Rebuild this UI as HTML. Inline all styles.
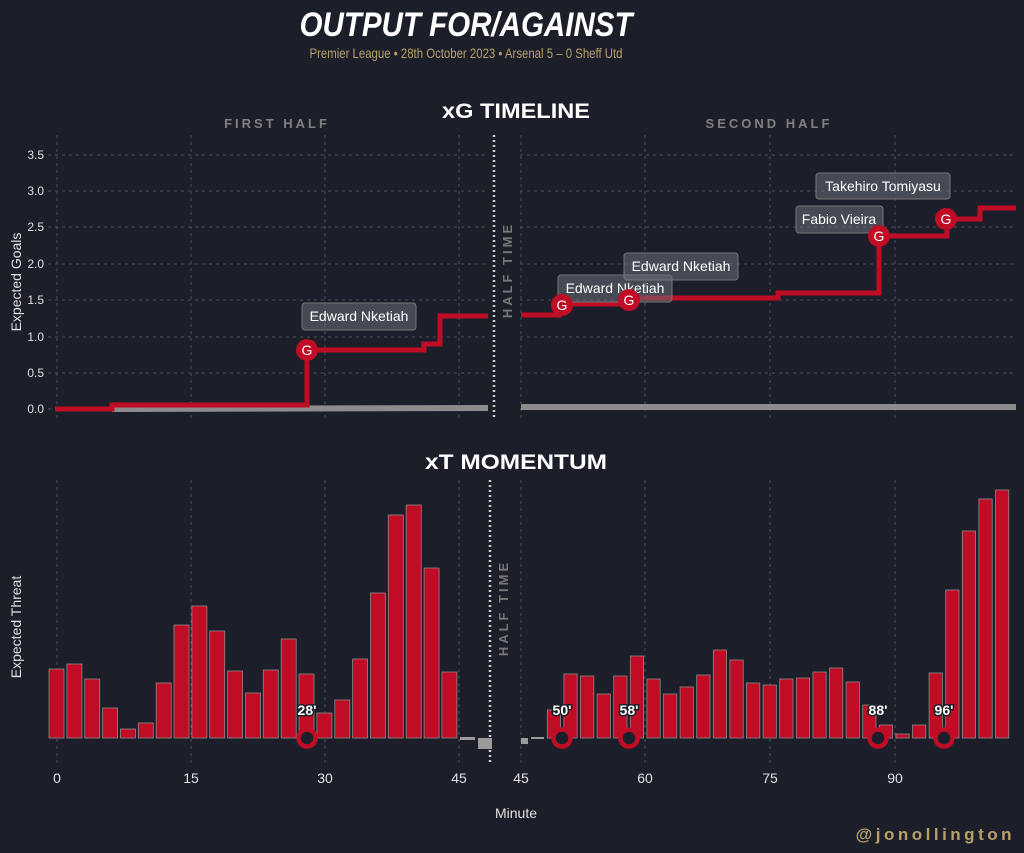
<!DOCTYPE html>
<html><head><meta charset="utf-8"><style>
html,body{margin:0;padding:0;background:#1c1f2a;}
svg{display:block;font-family:"Liberation Sans",sans-serif;}
</style></head><body>
<svg width="1024" height="853" viewBox="0 0 1024 853" xmlns="http://www.w3.org/2000/svg">
<rect width="1024" height="853" fill="#1c1f2a"/>
<text x="466" y="36" text-anchor="middle" fill="#fff" font-size="34" font-weight="bold" font-style="italic" textLength="333" lengthAdjust="spacingAndGlyphs">OUTPUT FOR/AGAINST</text>
<text x="466" y="58" text-anchor="middle" fill="#b8a068" font-size="14" textLength="313" lengthAdjust="spacingAndGlyphs">Premier League • 28th October 2023 • Arsenal 5 – 0 Sheff Utd</text>
<text x="516" y="118" text-anchor="middle" fill="#fff" font-size="21" font-weight="bold" textLength="148" lengthAdjust="spacingAndGlyphs">xG TIMELINE</text>
<text x="277" y="128" text-anchor="middle" fill="#808080" font-size="13" font-weight="bold" letter-spacing="3">FIRST HALF</text>
<text x="769" y="128" text-anchor="middle" fill="#808080" font-size="13" font-weight="bold" letter-spacing="3">SECOND HALF</text>
<text x="516" y="469" text-anchor="middle" fill="#fff" font-size="21" font-weight="bold" textLength="182" lengthAdjust="spacingAndGlyphs">xT MOMENTUM</text>

<g stroke="#4c505c" stroke-width="1" stroke-dasharray="3,4">
<line x1="48" x2="488" y1="409" y2="409"/><line x1="48" x2="488" y1="373" y2="373"/><line x1="48" x2="488" y1="337" y2="337"/><line x1="48" x2="488" y1="300" y2="300"/><line x1="48" x2="488" y1="264" y2="264"/><line x1="48" x2="488" y1="227" y2="227"/><line x1="48" x2="488" y1="191" y2="191"/><line x1="48" x2="488" y1="155" y2="155"/>
<line x1="520" x2="1016" y1="409" y2="409"/><line x1="520" x2="1016" y1="373" y2="373"/><line x1="520" x2="1016" y1="337" y2="337"/><line x1="520" x2="1016" y1="300" y2="300"/><line x1="520" x2="1016" y1="264" y2="264"/><line x1="520" x2="1016" y1="227" y2="227"/><line x1="520" x2="1016" y1="191" y2="191"/><line x1="520" x2="1016" y1="155" y2="155"/>
<line x1="57" x2="57" y1="135" y2="420"/><line x1="191" x2="191" y1="135" y2="420"/><line x1="325" x2="325" y1="135" y2="420"/><line x1="459" x2="459" y1="135" y2="420"/>
<line x1="521" x2="521" y1="135" y2="420"/><line x1="645" x2="645" y1="135" y2="420"/><line x1="770" x2="770" y1="135" y2="420"/><line x1="895" x2="895" y1="135" y2="420"/>
<line x1="57" x2="57" y1="480" y2="765"/><line x1="191" x2="191" y1="480" y2="765"/><line x1="325" x2="325" y1="480" y2="765"/><line x1="459" x2="459" y1="480" y2="765"/>
<line x1="521" x2="521" y1="480" y2="765"/><line x1="645" x2="645" y1="480" y2="765"/><line x1="770" x2="770" y1="480" y2="765"/><line x1="895" x2="895" y1="480" y2="765"/>
</g>
<g fill="#e0e0e0" font-size="12" text-anchor="end">
<text x="44" y="413">0.0</text><text x="44" y="377">0.5</text><text x="44" y="341">1.0</text><text x="44" y="304">1.5</text><text x="44" y="268">2.0</text><text x="44" y="231">2.5</text><text x="44" y="195">3.0</text><text x="44" y="159">3.5</text>
</g>
<text transform="translate(21,282) rotate(-90)" text-anchor="middle" fill="#e0e0e0" font-size="14">Expected Goals</text>
<text transform="translate(21,627) rotate(-90)" text-anchor="middle" fill="#e0e0e0" font-size="14">Expected Threat</text>

<line x1="494" x2="494" y1="135" y2="420" stroke="#ccc" stroke-width="2.5" stroke-dasharray="2,3"/>
<line x1="490" x2="490" y1="480" y2="765" stroke="#ccc" stroke-width="2.5" stroke-dasharray="2,3"/>
<text transform="translate(512,270) rotate(-90)" text-anchor="middle" fill="#777" font-size="13" font-weight="bold" letter-spacing="3">HALF TIME</text>
<text transform="translate(508,608) rotate(-90)" text-anchor="middle" fill="#777" font-size="13" font-weight="bold" letter-spacing="3">HALF TIME</text>

<polyline fill="none" stroke="#8c8c8c" stroke-width="6" points="112,409 488,408"/>
<polyline fill="none" stroke="#8c8c8c" stroke-width="6" points="521,407 1016,407"/>
<polyline fill="none" stroke="#c00c24" stroke-width="5" points="55,409 112,409 112,405 307,405 307,350 424,350 424,344 440,344 440,316 488,316"/>
<polyline fill="none" stroke="#c00c24" stroke-width="5" points="521,315 559,315 559,304 629,304 629,298 778,298 778,293 879,293 879,236 947,236 947,219 980,219 980,208 1016,208"/>
<g font-size="14" fill="#fff">
<rect x="302" y="303" width="114" height="27" rx="3" fill="#6a6d78" fill-opacity="0.55" stroke="#777" stroke-width="1"/>
<text x="359" y="321" text-anchor="middle">Edward Nketiah</text>
<rect x="558" y="275" width="114" height="27" rx="3" fill="#6a6d78" fill-opacity="0.55" stroke="#777"/>
<text x="615" y="293" text-anchor="middle">Edward Nketiah</text>
<rect x="624" y="253" width="114" height="27" rx="3" fill="#6a6d78" fill-opacity="0.55" stroke="#777"/>
<text x="681" y="271" text-anchor="middle">Edward Nketiah</text>
<rect x="796" y="206" width="87" height="27" rx="3" fill="#6a6d78" fill-opacity="0.55" stroke="#777"/>
<text x="839" y="224" text-anchor="middle">Fabio Vieira</text>
<rect x="816" y="173" width="134" height="26" rx="3" fill="#6a6d78" fill-opacity="0.55" stroke="#777"/>
<text x="883" y="191" text-anchor="middle">Takehiro Tomiyasu</text>
</g>
<g fill="#c00c24">
<circle cx="307" cy="350" r="11"/><circle cx="562" cy="305" r="11"/><circle cx="629" cy="300" r="11"/><circle cx="879" cy="236" r="11"/><circle cx="946" cy="219" r="11"/>
</g>
<g fill="#fff" font-size="14" text-anchor="middle">
<text x="307" y="355">G</text><text x="562" y="310">G</text><text x="629" y="305">G</text><text x="879" y="241">G</text><text x="946" y="224">G</text>
</g>

<g fill="#c00c24" stroke="#8a8a8a" stroke-width="0.8">
<rect x="49" y="669" width="15" height="69"/><rect x="66.9" y="664" width="15" height="74"/><rect x="84.7" y="679" width="15" height="59"/><rect x="102.6" y="708" width="15" height="30"/><rect x="120.4" y="729" width="15" height="9"/><rect x="138.3" y="723" width="15" height="15"/><rect x="156.2" y="683" width="15" height="55"/><rect x="174" y="625" width="15" height="113"/><rect x="191.9" y="606" width="15" height="132"/><rect x="209.7" y="631" width="15" height="107"/><rect x="227.6" y="671" width="15" height="67"/><rect x="245.5" y="693" width="15" height="45"/><rect x="263.3" y="670" width="15" height="68"/><rect x="281.2" y="639" width="15" height="99"/><rect x="299" y="674" width="15" height="64"/><rect x="316.9" y="713" width="15" height="25"/><rect x="334.8" y="700" width="15" height="38"/><rect x="352.6" y="659" width="15" height="79"/><rect x="370.5" y="593" width="15" height="145"/><rect x="388.3" y="515" width="15" height="223"/><rect x="406.2" y="505" width="15" height="233"/><rect x="424.1" y="568" width="15" height="170"/><rect x="441.9" y="672" width="15" height="66"/>
<rect x="547.3" y="710" width="13.3" height="28"/><rect x="563.9" y="674" width="13.3" height="64"/><rect x="580.5" y="676" width="13.3" height="62"/><rect x="597.1" y="694" width="13.3" height="44"/><rect x="613.7" y="676" width="13.3" height="62"/><rect x="630.3" y="656" width="13.3" height="82"/><rect x="646.9" y="679" width="13.3" height="59"/><rect x="663.5" y="694" width="13.3" height="44"/><rect x="680.1" y="687" width="13.3" height="51"/><rect x="696.7" y="675" width="13.3" height="63"/><rect x="713.3" y="650" width="13.3" height="88"/><rect x="729.9" y="660" width="13.3" height="78"/><rect x="746.5" y="683" width="13.3" height="55"/><rect x="763.1" y="685" width="13.3" height="53"/><rect x="779.7" y="679" width="13.3" height="59"/><rect x="796.3" y="678" width="13.3" height="60"/><rect x="812.9" y="672" width="13.3" height="66"/><rect x="829.5" y="668" width="13.3" height="70"/><rect x="846.1" y="682" width="13.3" height="56"/><rect x="862.7" y="705" width="13.3" height="33"/><rect x="879.3" y="725" width="13.3" height="13"/><rect x="895.9" y="734" width="13.3" height="4"/><rect x="912.5" y="725" width="13.3" height="13"/><rect x="929.1" y="673" width="13.3" height="65"/><rect x="945.7" y="590" width="13.3" height="148"/><rect x="962.3" y="531" width="13.3" height="207"/><rect x="978.9" y="499" width="13.3" height="239"/><rect x="995.5" y="490" width="13.3" height="248"/>
</g>
<g fill="#9a9a9a">
<rect x="460" y="737" width="15" height="3"/><rect x="478" y="738" width="14" height="11"/>
<rect x="521" y="738" width="7" height="6"/><rect x="531" y="737" width="13" height="2"/>
</g>
<g fill="#1c1f2a" stroke="#c00c24" stroke-width="4.5">
<circle cx="307" cy="738" r="8.5"/><circle cx="562" cy="738" r="8.5"/><circle cx="629" cy="738" r="8.5"/><circle cx="878" cy="738" r="8.5"/><circle cx="944" cy="738" r="8.5"/>
</g>
<g font-size="14" font-weight="bold" fill="#fff" stroke="#1c1f2a" stroke-width="3" paint-order="stroke" text-anchor="middle">
<text x="307" y="715">28'</text><text x="562" y="715">50'</text><text x="629" y="715">58'</text><text x="878" y="715">88'</text><text x="944" y="715">96'</text>
</g>
<g fill="#e0e0e0" font-size="14" text-anchor="middle">
<text x="57" y="783">0</text><text x="191" y="783">15</text><text x="325" y="783">30</text><text x="459" y="783">45</text>
<text x="521" y="783">45</text><text x="645" y="783">60</text><text x="770" y="783">75</text><text x="895" y="783">90</text>
<text x="516" y="818">Minute</text>
</g>
<text x="1015" y="840" text-anchor="end" fill="#b8a068" font-size="17" font-weight="bold" letter-spacing="3.5">@jonollington</text>
</svg>
</body></html>
